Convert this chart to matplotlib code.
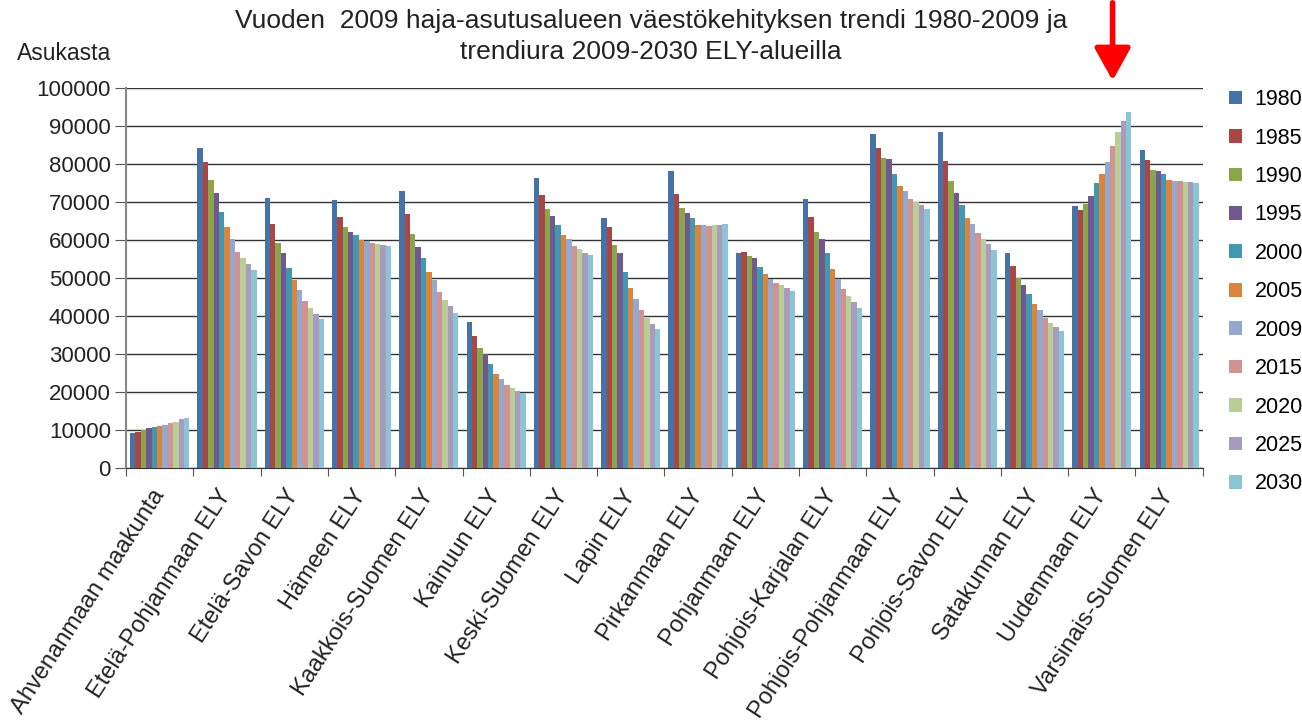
import numpy as np
import matplotlib.pyplot as plt
from matplotlib.patches import FancyArrowPatch

plt.rcParams['font.family'] = ['Liberation Sans', 'DejaVu Sans']

# ----------------------------------------------------
# DATA
# ----------------------------------------------------
regions = ["Ahvenanmaan maakunta", "Etelä-Pohjanmaan ELY", "Etelä-Savon ELY",
           "Hämeen ELY", "Kaakkois-Suomen ELY", "Kainuun ELY", "Keski-Suomen ELY",
           "Lapin ELY", "Pirkanmaan ELY", "Pohjanmaan ELY", "Pohjois-Karjalan ELY",
           "Pohjois-Pohjanmaan ELY", "Pohjois-Savon ELY", "Satakunnan ELY",
           "Uudenmaan ELY", "Varsinais-Suomen ELY"]
years = ["1980", "1985", "1990", "1995", "2000", "2005", "2009",
         "2015", "2020", "2025", "2030"]

ahvenanmaa = [9100, 9500, 10000, 10500, 10800, 11000, 11300, 11800, 12200, 12800, 13200]
etela_pohjanmaa = [84300, 80500, 75700, 72500, 67500, 63300, 60200, 56900, 55200, 53700, 52100]
etela_savo = [71100, 64300, 59200, 56500, 52600, 49600, 46800, 44000, 42000, 40400, 39200]
hame = [70600, 66100, 63500, 62200, 61200, 60000, 59700, 59100, 58900, 58700, 58400]
kaakkois_suomi = [72900, 66800, 61500, 58200, 55200, 51600, 49400, 46300, 44200, 42500, 40700]
kainuu = [38400, 34700, 31700, 30000, 27400, 24800, 23300, 21800, 21000, 20300, 19800]
keski_suomi = [76400, 71800, 68200, 66300, 64000, 61200, 60200, 58400, 57600, 56700, 56000]
lappi = [65800, 63300, 58700, 56500, 51600, 47500, 44500, 41500, 39500, 37900, 36500]
pirkanmaa = [78200, 72100, 68300, 67000, 65800, 64000, 64000, 63800, 64000, 64000, 64200]
pohjanmaa = [56500, 56900, 55800, 55200, 52800, 51100, 49700, 48600, 48100, 47300, 46600]
pohjois_karjala = [70900, 66100, 62000, 60200, 56500, 52500, 49800, 47000, 45300, 43800, 42000]
pohjois_pohjanmaa = [87800, 84300, 81500, 81200, 77500, 74100, 72800, 70900, 70100, 69100, 68200]
pohjois_savo = [88300, 80800, 75400, 72500, 69100, 65800, 64200, 61800, 60200, 58900, 57400]
satakunta = [56700, 53100, 50000, 48100, 45800, 43200, 41500, 39500, 38200, 37200, 36100]
uusimaa = [69000, 67800, 69500, 71600, 74900, 77500, 80400, 84800, 88300, 91300, 93600]
varsinais_suomi = [83700, 81000, 78400, 78200, 77400, 75700, 75400, 75400, 75300, 75200, 75000]

values = np.array([ahvenanmaa, etela_pohjanmaa, etela_savo, hame, kaakkois_suomi,
                   kainuu, keski_suomi, lappi, pirkanmaa, pohjanmaa, pohjois_karjala,
                   pohjois_pohjanmaa, pohjois_savo, satakunta, uusimaa, varsinais_suomi])

colors = ['#4572A7', '#AA4643', '#89A54E', '#71588F', '#4198AF', '#DB843D',
          '#93A9CF', '#D19392', '#B9CD96', '#A99BBD', '#8BC4D5']

# ----------------------------------------------------
# FIGURE
# ----------------------------------------------------
fig = plt.figure(figsize=(13.02, 7.25), dpi=100)
ax = fig.add_axes([0.0968, 0.3545, 0.827, 0.5241])

n_groups = len(regions)
n_years = len(years)
width = 0.08
x = np.arange(n_groups)

for i, year in enumerate(years):
    offs = (i - (n_years - 1) / 2) * width
    ax.bar(x + offs, values[:, i], width=width, color=colors[i],
           label=year, zorder=3, linewidth=0)

ax.set_xlim(-0.5, n_groups - 0.5)
ax.set_ylim(0, 100000)
ax.set_yticks(np.arange(0, 100001, 10000))
ax.set_yticklabels([str(v) for v in range(0, 100001, 10000)], fontsize=16,
                   color='#222222')
ax.yaxis.grid(True, color='#333333', linewidth=1.0, zorder=0)

# category ticks at boundaries, labels at centers
ax.set_xticks(np.arange(-0.5, n_groups, 1.0))
ax.set_xticklabels([])
ax.set_xticks(x, minor=True)
ax.set_xticklabels(regions, minor=True, rotation=57, ha='right', va='center',
                   rotation_mode='anchor', fontsize=17, color='#222222')
ax.tick_params(axis='x', which='minor', length=0, pad=17)
ax.tick_params(axis='x', which='major', length=6, color='#555555')
ax.tick_params(axis='y', length=8, color='#555555', pad=3)

for side in ['top', 'right']:
    ax.spines[side].set_visible(False)
ax.spines['left'].set_color('#888888')
ax.spines['left'].set_linewidth(1.5)
ax.spines['bottom'].set_color('#333333')

# title and y-label
fig.text(0.5, 0.988, "Vuoden  2009 haja-asutusalueen väestökehityksen trendi 1980-2009 ja\n"
         "trendiura 2009-2030 ELY-alueilla", ha='center', va='top', fontsize=19,
         color='#222222', linespacing=1.38)
fig.text(0.013, 0.926, "Asukasta", ha='left', va='center', fontsize=16.5, color='#222222')

# legend
handles, labels = ax.get_legend_handles_labels()
fig.legend(handles, labels, loc='upper left', bbox_to_anchor=(0.937, 0.889),
           frameon=False, fontsize=15.5, handlelength=0.6, handleheight=0.6,
           handletextpad=0.6, labelspacing=0.81, borderaxespad=0)

# red arrow
fig.patches.append(FancyArrowPatch(
    (0.8545, 1.0), (0.8545, 0.885), transform=fig.transFigure,
    arrowstyle='-|>,head_length=0.9,head_width=0.5', color='red',
    linewidth=4, mutation_scale=22))

fig.savefig("out.png", dpi=100)
